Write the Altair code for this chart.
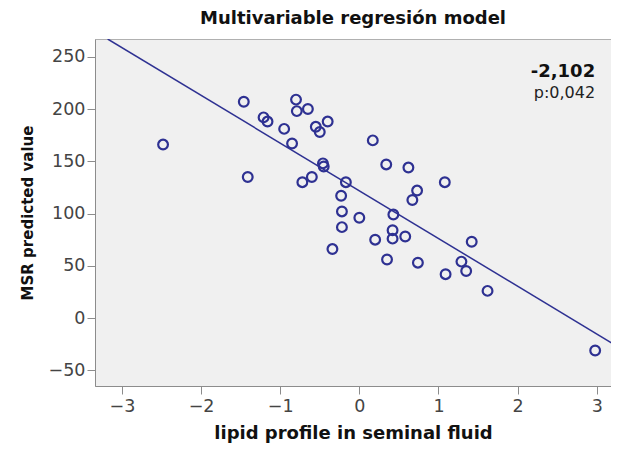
import altair as alt
import pandas as pd

# Scatter values
x_vals = [-1.46, -2.48, -1.41, -0.80, -0.79, -0.65, -1.21, -1.16, -0.95, -0.85,
          -0.55, -0.40, -0.50, -0.46, -0.45, -0.72, -0.60, -0.17, -0.23, -0.22,
          -0.22, -0.34, 0.17, 0.34, 0.62, 0.73, 0.67, 1.08, 0.00, 0.20,
          0.35, 0.43, 0.42, 0.42, 0.58, 0.74, 1.09, 1.29, 1.35, 1.42,
          1.62, 2.98]
y_vals = [207, 166, 135, 209, 198, 200, 192, 188, 181, 167,
          183, 188, 178, 148, 145, 130, 135, 130, 117, 102,
          87, 66, 170, 147, 144, 122, 113, 130, 96, 75,
          56, 99, 84, 76, 78, 53, 42, 54, 45, 73,
          26, -31]

# Fit line end points
line_x = [-3.18, 3.28]
line_y = [267, -28]

# Annotation
ann_text = ["-2,102", "p:0,042"]
ann_x = [2.98, 2.98]
ann_y = [235.5, 215.5]

x_ticks = [-3, -2, -1, 0, 1, 2, 3]
y_ticks = [-50, 0, 50, 100, 150, 200, 250]

NAVY = "#2e3192"
FONT = "DejaVu Sans"

pts = pd.DataFrame({"x": x_vals, "y": y_vals})
ln = pd.DataFrame({"x": line_x, "y": line_y})
ann = pd.DataFrame({"t": ann_text, "x": ann_x, "y": ann_y})

xs = alt.Scale(domain=[-3.34, 3.18], nice=False, zero=False)
ys = alt.Scale(domain=[-65, 267], nice=False, zero=False)

xax = alt.Axis(values=x_ticks, format="d", title="lipid profile in seminal fluid",
               grid=False, titleFontSize=18, titleFontWeight="bold",
               titleColor="#111", titleFont=FONT, titlePadding=10,
               labelFontSize=17.5, labelPadding=3, labelFont=FONT,
               labelColor="#444", domainColor="#8c8c8c", tickColor="#8c8c8c",
               tickSize=8)
yax = alt.Axis(values=y_ticks, format="d", title="MSR predicted value", grid=False,
               titleFontSize=15, titleFontWeight="bold", titleColor="#111",
               titleFont=FONT, titlePadding=13, labelFontSize=17.5,
               labelPadding=2, labelFont=FONT, labelColor="#444",
               domainColor="#8c8c8c", tickColor="#8c8c8c", tickSize=8)

points = alt.Chart(pts).mark_point(
    shape="circle", filled=False, size=95, strokeWidth=2.2, color=NAVY, opacity=1
).encode(
    x=alt.X("x:Q", scale=xs, axis=xax),
    y=alt.Y("y:Q", scale=ys, axis=yax),
)

line = alt.Chart(ln).mark_line(color=NAVY, strokeWidth=1.5, clip=True).encode(
    x=alt.X("x:Q", scale=xs),
    y=alt.Y("y:Q", scale=ys),
)

t1 = alt.Chart(ann.iloc[[0]]).mark_text(
    align="right", baseline="middle", font=FONT, fontSize=18,
    fontWeight="bold", color="#111"
).encode(x=alt.X("x:Q", scale=xs), y=alt.Y("y:Q", scale=ys), text="t:N")

t2 = alt.Chart(ann.iloc[[1]]).mark_text(
    align="right", baseline="middle", font=FONT, fontSize=16,
    fontWeight="normal", color="#222"
).encode(x=alt.X("x:Q", scale=xs), y=alt.Y("y:Q", scale=ys), text="t:N")

chart = alt.layer(line, points, t1, t2).properties(
    width=516, height=347,
    background="white",
    title=alt.TitleParams("Multivariable regresión model", font=FONT,
                          fontSize=18, fontWeight="bold", color="#111",
                          anchor="middle", offset=11),
    autosize=alt.AutoSizeParams(type="none"),
    padding={"left": 87, "top": 31, "right": 0, "bottom": 60},
).configure_view(
    fill="#f0f0f0", stroke="#b0b0b0", strokeWidth=1
)

chart.save("out.html", embed_options={"renderer": "svg", "actions": False})
